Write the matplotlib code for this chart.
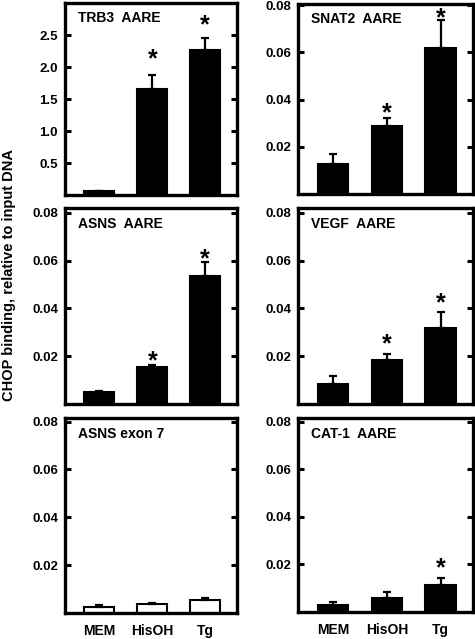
import matplotlib
matplotlib.use("Agg")
import matplotlib.pyplot as plt

plt.rcParams['font.family'] = ['Liberation Sans', 'DejaVu Sans']
plt.rcParams['font.weight'] = 'bold'

conditions = ["MEM", "HisOH", "Tg"]

panel_titles = ["TRB3  AARE", "SNAT2  AARE", "ASNS  AARE", "VEGF  AARE", "ASNS exon 7", "CAT-1  AARE"]

trb3_vals = [0.06, 1.65, 2.27]
trb3_err = [0.0, 0.22, 0.18]
trb3_star = [None, 2.23, 2.75]

snat2_vals = [0.0126, 0.0288, 0.062]
snat2_err = [0.0043, 0.0036, 0.0119]
snat2_star = [None, 0.0368, 0.0772]

asns_vals = [0.0049, 0.0155, 0.0537]
asns_err = [0.0004, 0.0010, 0.0056]
asns_star = [None, 0.0208, 0.0635]

vegf_vals = [0.0085, 0.0186, 0.0317]
vegf_err = [0.0034, 0.0025, 0.0067]
vegf_star = [None, 0.0279, 0.045]

exon7_vals = [0.0024, 0.0039, 0.0054]
exon7_err = [0.0009, 0.0004, 0.0010]
exon7_star = [None, None, None]

cat1_vals = [0.0028, 0.0059, 0.0112]
cat1_err = [0.0012, 0.0025, 0.0032]
cat1_star = [None, None, 0.0214]

trb3_ticks = [0.5, 1.0, 1.5, 2.0, 2.5]
trb3_ticklabels = ["0.5", "1.0", "1.5", "2.0", "2.5"]
small_ticks = [0.02, 0.04, 0.06, 0.08]
small_ticklabels = ["0.02", "0.04", "0.06", "0.08"]

ylabel = "CHOP binding, relative to input DNA"

W, H = 475, 639
fig = plt.figure(figsize=(W / 100, H / 100), dpi=100)

def rect(left, top, right, bottom):
    return [left / W, (H - bottom) / H, (right - left) / W, (bottom - top) / H]

rects = [
    rect(65, 3, 237, 195), rect(298, 4, 473, 194),
    rect(65, 208, 237, 404), rect(298, 208, 473, 404),
    rect(65, 418, 237, 613), rect(298, 418, 473, 612),
]

data = [
    (trb3_vals, trb3_err, trb3_star, (0, 3.0), trb3_ticks, trb3_ticklabels, 'black'),
    (snat2_vals, snat2_err, snat2_star, (0, 0.0805), small_ticks, small_ticklabels, 'black'),
    (asns_vals, asns_err, asns_star, (0, 0.082), small_ticks, small_ticklabels, 'black'),
    (vegf_vals, vegf_err, vegf_star, (0, 0.082), small_ticks, small_ticklabels, 'black'),
    (exon7_vals, exon7_err, exon7_star, (0, 0.0815), small_ticks, small_ticklabels, 'white'),
    (cat1_vals, cat1_err, cat1_star, (0, 0.0815), small_ticks, small_ticklabels, 'black'),
]

x = list(range(len(conditions)))
for i, (r, (vals, errs, stars, ylim, ticks, tlabels, fc)) in enumerate(zip(rects, data)):
    ax = fig.add_axes(r)
    ax.bar(x, vals, width=0.57, color=fc, edgecolor='black', linewidth=1.5, zorder=2)
    ax.errorbar(x, vals, yerr=[[0] * len(errs), errs], fmt='none', ecolor='black',
                elinewidth=1.6, capsize=3, capthick=1.6, zorder=3)
    span = ylim[1] - ylim[0]
    for xi, sy in zip(x, stars):
        if sy is not None:
            # asterisk glyph sits high in its box; shift anchor down
            ax.text(xi, sy - 0.035 * span, "*", ha='center', va='center',
                    fontsize=18, fontweight='bold')
    ax.set_xlim(-0.65, 2.6)
    ax.set_ylim(*ylim)
    ax.set_yticks(ticks)
    ax.set_yticklabels(tlabels, fontsize=9.5, fontweight='bold')
    ax.tick_params(axis='y', direction='in', length=4, width=2.2, left=True, right=True, pad=5)
    if i >= 4:
        ax.set_xticks(x)
        ax.set_xticklabels(conditions, fontsize=10, fontweight='bold')
        ax.tick_params(axis='x', length=0, pad=8)
    else:
        ax.set_xticks([])
    for sp in ax.spines.values():
        sp.set_linewidth(2.4)
    ax.text(0.075, 0.92, panel_titles[i], transform=ax.transAxes, ha='left', va='center',
            fontsize=10, fontweight='bold')

fig.text(9 / W, 1 - 275 / H, ylabel, rotation=90, ha='center', va='center',
         fontsize=10.5, fontweight='bold')

fig.savefig("out.png", dpi=100)
